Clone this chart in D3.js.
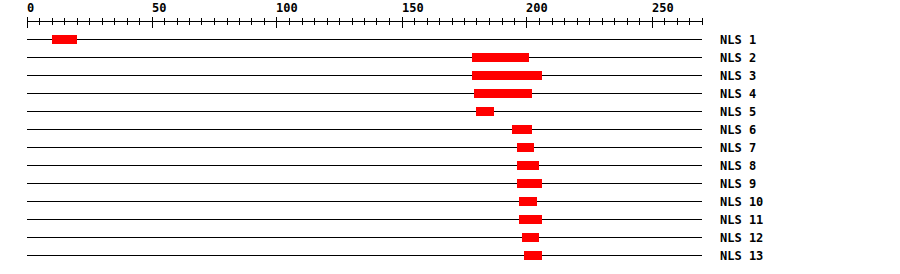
<!DOCTYPE html>
<html>
<head>
<meta charset="utf-8">
<script src="https://cdn.jsdelivr.net/npm/d3@7"></script>
<style>
	body { margin: 0; background: #fff; }
	text { font-family: "DejaVu Sans Mono", monospace; font-weight: bold; font-size: 12px; fill: #000; }
	line, rect { shape-rendering: crispEdges; }
</style>
</head>
<body>
<div id="chart"></div>
<script>
// NLS regions (residue start / end)
var names = ["NLS 1", "NLS 2", "NLS 3", "NLS 4", "NLS 5", "NLS 6", "NLS 7",
	"NLS 8", "NLS 9", "NLS 10", "NLS 11", "NLS 12", "NLS 13"];
var starts = [10, 178, 178, 179, 180, 194, 196, 196, 196, 197, 197, 198, 199];
var ends = [20, 201, 206, 202, 187, 202, 203, 205, 206, 204, 206, 205, 206];
var axisMax = 270;
var majorTicks = [0, 50, 100, 150, 200, 250];

var width = 900,
	height = 274;

var svg = d3.select("#chart")
	.append("svg")
	.attr("width", width)
	.attr("height", height);

var x = d3.scaleLinear()
	.domain([0, axisMax])
	.range([26.5, 701.5]);

var y = d3.scaleBand()
	.domain(names)
	.range([30.5, 264.5]);

// top ruler
var axisY = 21.5;
svg.append("line")
	.attr("x1", x(0)).attr("x2", x(axisMax))
	.attr("y1", axisY).attr("y2", axisY)
	.attr("stroke", "#000");

var minor = d3.range(0, axisMax + 1, 5);
svg.selectAll(".tick")
	.data(minor)
	.enter()
	.append("line")
	.attr("x1", function(d) { return Math.round(x(d)) + 0.5; })
	.attr("x2", function(d) { return Math.round(x(d)) + 0.5; })
	.attr("y1", function(d) { return d % 50 == 0 ? 17 : 18; })
	.attr("y2", function(d) { return d % 50 == 0 ? 28 : 25; })
	.attr("stroke", "#000");

svg.selectAll(".lbl")
	.data(majorTicks)
	.enter()
	.append("text")
	.attr("x", function(d) { return Math.round(x(d)); })
	.attr("y", 12)
	.text(function(d) { return d; });

// one row per NLS
var rows = svg.selectAll(".row")
	.data(names)
	.enter()
	.append("g")
	.attr("transform", function(d) {
		return "translate(0," + (Math.round(y(d) + y.bandwidth() / 2) - 0.5) + ")";
	});

rows.append("line")
	.attr("x1", x(0)).attr("x2", x(axisMax))
	.attr("stroke", "#000");

rows.append("rect")
	.attr("x", function(d, i) { return Math.round(x(starts[i])); })
	.attr("y", -4.5)
	.attr("width", function(d, i) { return Math.round(x(ends[i])) - Math.round(x(starts[i])); })
	.attr("height", 9)
	.attr("fill", "#ff0000");

rows.append("text")
	.attr("x", 720)
	.attr("y", 4.5)
	.text(function(d) { return d; });
</script>
</body>
</html>
